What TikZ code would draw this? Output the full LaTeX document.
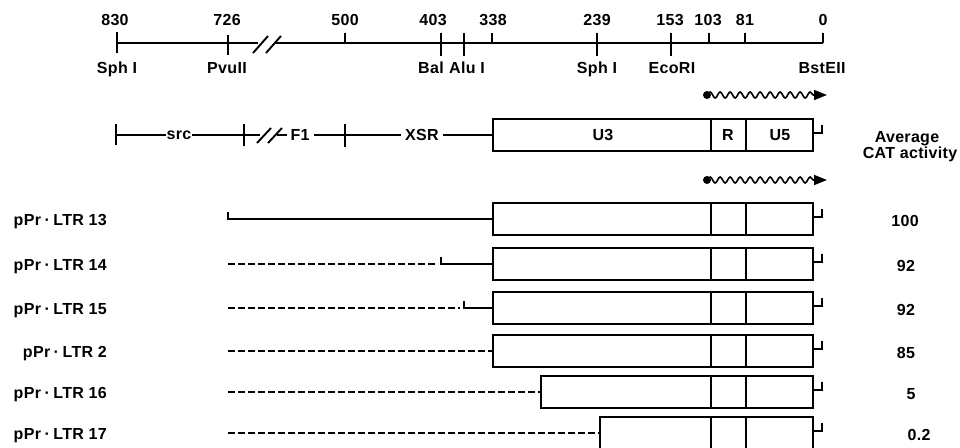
\documentclass[tikz,border=0pt]{standalone}
\usepackage{fontspec}
\setmainfont{Liberation Sans}[LetterSpace=2]
\usetikzlibrary{decorations.pathmorphing,arrows.meta}
\newcommand{\middot}{\hspace{3.5pt}·\hspace{3.5pt}}
\tikzset{
  lab/.style={font=\fontsize{16}{18}\selectfont\bfseries, inner sep=0pt},
  numlab/.style={font=\fontsize{16}{18}\selectfont\bfseries, inner sep=0pt},
  rule/.style={line width=1.9pt},
  solidseg/.style={line width=2.6pt},
  dseg/.style={line width=2pt, dash pattern=on 6.5pt off 3.5pt},
  ltr/.style={draw, line width=2pt, rectangle, inner sep=0pt, outer sep=0pt, anchor=north west, minimum height=32pt},
  divider/.style={line width=2pt},
  wavy/.style={line width=1.6pt, decorate, decoration={snake, segment length=10pt, amplitude=3pt, post length=12pt}, -{Triangle[length=13pt,width=10pt]}},
}
\begin{document}
\begin{tikzpicture}[x=1pt,y=-1pt]
\clip (0,0) rectangle (960,447);
% ---------- scale ----------
\coordinate (s830) at (117,43);
\coordinate (s0) at (823,43);
\coordinate (brkA) at (258,43);
\coordinate (brkB) at (276,43);
\draw[rule] (s830) -- (brkA);
\draw[rule] (brkB) -- (s0);
\draw[rule] (253,53) -- (268,36);
\draw[rule] (266,53) -- (281,36);
\foreach \x/\a/\b in {117/32/53, 228/35/55, 345/33/43, 441/33/56, 464/33/56, 492/33/43, 597/33/56, 671/33/56, 709/33/43, 745/33/43, 823/33/43}
  \draw[rule] (\x,\a) -- (\x,\b);
\foreach \x/\t/\n in {115/830/n830, 227/726/n726, 345/500/n500, 433/403/n403, 493/338/n338, 597/239/n239, 670/153/n153, 708/103/n103, 745/81/n81, 823/0/n0}
  \node[numlab, anchor=base] (\n) at (\x,25) {\t};
\foreach \x/\t/\n in {117/Sph I/e1, 227/PvuII/e2, 431/Bal/e3, 467/Alu I/e4, 597/Sph I/e5, 672/EcoRI/e6, 822/BstEII/e7}
  \node[lab, anchor=base] (\n) at (\x,73) {\t};
% ---------- wavy arrows ----------
\coordinate (w1s) at (707,95);
\coordinate (w1e) at (827,95);
\fill (w1s) circle (4pt);
\draw[wavy] (w1s) -- (w1e);
\coordinate (w2s) at (707,180);
\coordinate (w2e) at (827,180);
\fill (w2s) circle (4pt);
\draw[wavy] (w2s) -- (w2e);
% ---------- map row ----------
\node[ltr, minimum width=320pt] (mapbox) at (493,119) {};
\draw[divider] (711,119) -- (711,151);
\draw[divider] (746,119) -- (746,151);
\node[lab] (u3) at (603,135) {U3};
\node[lab] (rr) at (728,135) {R};
\node[lab] (u5) at (780,135) {U5};
\draw[rule] (mapbox.north east) ++(0,14) -- ++(9,0) -- ++(0,-8);
\node[lab] (src) at (179,135) {src};
\node[lab] (f1) at (300,135) {F1};
\node[lab] (xsr) at (422,135) {XSR};
\coordinate (m0) at (116,135);
\coordinate (m1) at (244,135);
\coordinate (m2) at (345,135);
\draw[rule] (116,124) -- (116,145);
\draw[rule] (244,124) -- (244,146);
\draw[rule] (345,124) -- (345,147);
\draw[rule] (m0) -- (src.west);
\draw[rule] (src.east) -- (m1) -- (260,135);
\draw[rule] (257,143) -- (271,128);
\draw[rule] (268,143) -- (282,128);
\draw[rule] (277,135) -- ([xshift=-3pt]f1.west);
\draw[rule] ([xshift=4pt]f1.east) -- (m2) -- ([xshift=-4pt]xsr.west);
\draw[rule] ([xshift=4pt]xsr.east) -- (mapbox.west);
\node[lab, anchor=base] (avg) at (907,142) {Average};
\node[lab, anchor=base] (cat) at (910,158) {CAT activity};
% ---------- constructs ----------
\foreach \n/\L/\T/\v/\vx in {13/493/203/100/905, 14/493/248/92/906, 15/493/292/92/906, 2/493/335/85/906, 16/541/376/5/911, 17/600/417/0.2/919}{
  \pgfmathsetmacro{\W}{813-\L}
  \node[ltr, minimum width=\W pt] (box\n) at (\L,\T) {};
  \draw[divider] (711,\T) -- (711,\T+32);
  \draw[divider] (746,\T) -- (746,\T+32);
  \draw[rule] (box\n.north east) ++(0,14) -- ++(9,0) -- ++(0,-8);
  \node[lab, anchor=base east] (name\n) at (107,\T+22) {pPr\middot LTR \n};
  \node[lab, anchor=base] (cat\n) at (\vx,\T+23) {\v};
}
\coordinate (c13) at (228,219);
\draw[solidseg] (228,212) -- (c13) -- (box13.west);
\coordinate (d14) at (228,264);
\draw[dseg] (d14) -- (437,264);
\draw[solidseg] (441,257) -- (441,264) -- (box14.west);
\coordinate (d15) at (228,308);
\draw[dseg] (d15) -- (460,308);
\draw[solidseg] (464,301) -- (464,308) -- (box15.west);
\coordinate (d2) at (228,351);
\draw[dseg] (d2) -- (box2.west);
\coordinate (d16) at (228,392);
\draw[dseg] (d16) -- (box16.west);
\coordinate (d17) at (228,433);
\draw[dseg] (d17) -- (box17.west);
\end{tikzpicture}
\end{document}
